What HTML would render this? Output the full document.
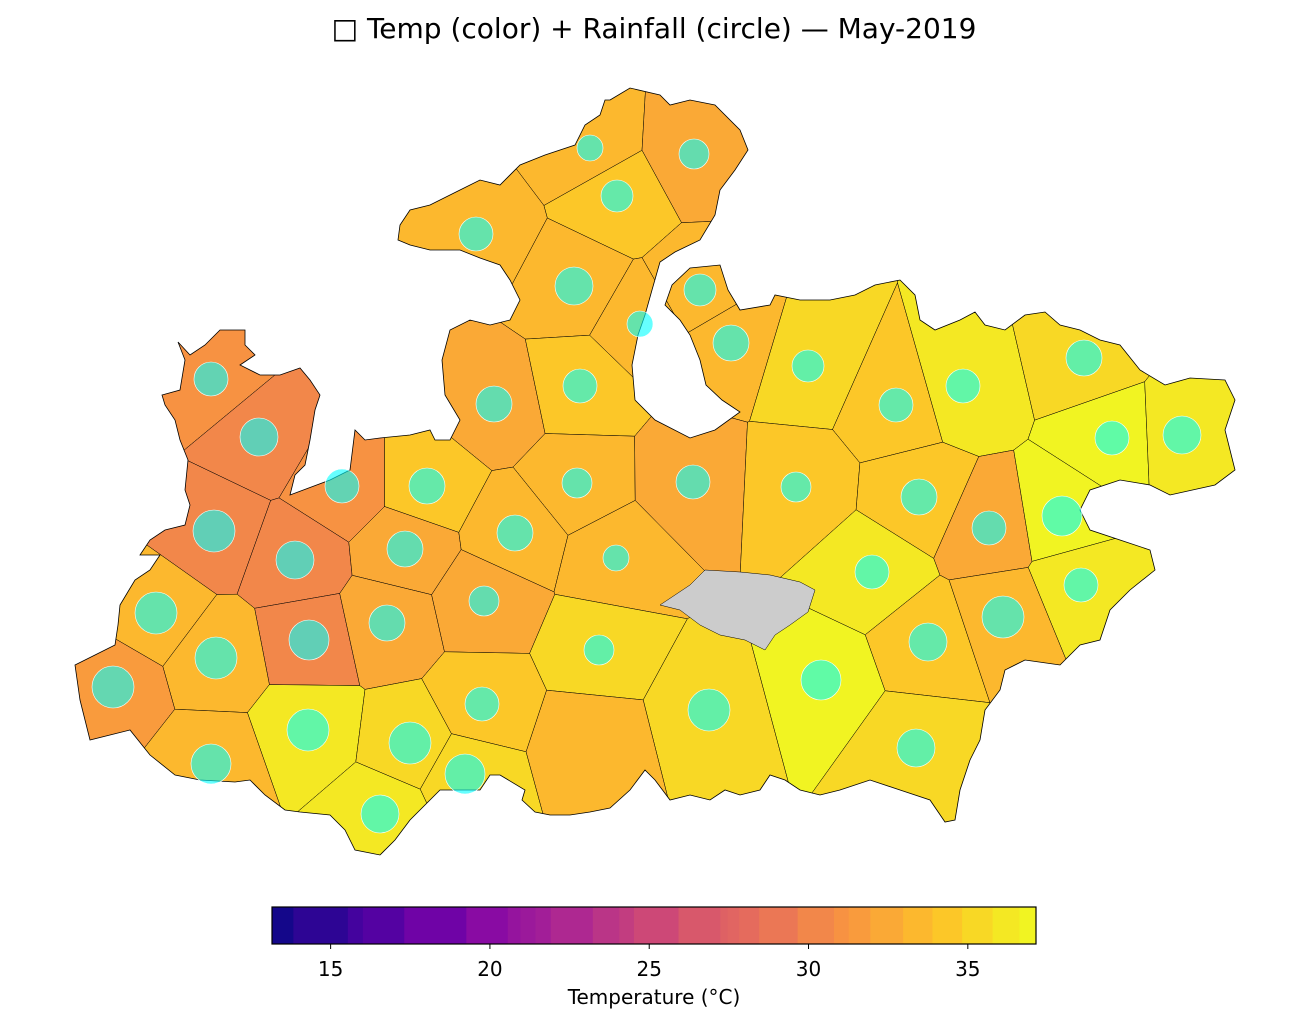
<!DOCTYPE html>
<html><head><meta charset="utf-8"><style>
body{margin:0;background:#fff;}
svg{display:block;font-family:"DejaVu Sans","Liberation Sans",sans-serif;}
</style></head><body>
<svg id="chart" width="1308" height="1023" viewBox="0 0 1308 1023">
<text x="654" y="38" text-anchor="middle" font-size="28" fill="#000">□ Temp (color) + Rainfall (circle) — May-2019</text>
<defs><clipPath id="stateClip"><polygon id="clipPoly"/></clipPath></defs>
<g id="cells" clip-path="url(#stateClip)"></g>
<polygon id="outline" fill="none" stroke="#000" stroke-width="0.8"/>
<polygon id="nodata" fill="#cccccc" stroke="#000" stroke-width="0.5"
 points="660,605 690,585 705,570 740,572 770,575 800,582 815,590 808,612 790,625 775,635 765,650 745,640 720,635 700,625 680,610"/>
<g id="circles"></g>
<g id="cbar"></g>
</svg>
<script>
// district data: circle x, circle y, temperature, rainfall marker radius
const districtTemp = [33,32.5,34.5,33,33.5,33,33,33.5,35,34,36,35.5,37,36,31,30.5,32,34,31,34,33.5,32,34.5,34,30,30.5,32,33.5,33,32.5,37,36.5,36.5,33.5,30.5,32,32.5,35,33.5,34.5,33,31.5,36.5,35,34.5,35,37,33,35,36,35,33];
const districtRain = [13,15,16,17,19,16,13,18,16,17,17,18,17,19,17,19,18,17,17,18,15,17,15,18,21,19,18,18,13,17,20,17,17,21,20,18,15,15,21,19,21,21,21,21,17,21,20,20,20,19,19,0];
const siteX = [590,694,617,476,574,700,640,731,808,896,963,1084,1112,1182,211,259,494,580,342,427,577,693,796,919,214,295,405,515,616,989,1062,872,1081,156,309,387,484,599,1003,928,216,113,308,410,482,709,821,211,465,380,916,590];
const siteY = [148,154,196,234,286,290,324,343,366,405,386,358,438,435,379,437,404,386,486,486,483,482,487,497,531,560,549,533,558,528,516,572,585,613,640,623,601,650,617,642,658,687,730,743,704,710,680,764,774,814,748,740];
// colorbar level boundaries (°C)
const levels = [13.16,13.83,15.54,16.01,17.31,19.26,20.56,20.96,21.43,21.91,23.23,24.06,24.52,25.92,27.23,27.46,27.82,28.45,29.66,30.8,31.26,31.94,32.97,33.89,34.82,35.78,36.62,37.14];
const tickValues = [15,20,25,30,35];

const outlinePts = [[610,100],[630,88],[660,95],[670,105],[690,100],[715,105],[740,130],[748,150],[735,170],[720,190],[715,215],[700,240],[675,252],[660,262],[652,290],[645,315],[638,335],[632,365],[635,400],[655,420],[690,438],[715,430],[740,412],[722,400],[706,385],[700,360],[690,335],[680,320],[665,305],[672,285],[690,268],[720,265],[728,290],[740,310],[770,305],[775,295],[800,300],[830,300],[855,295],[875,285],[900,280],[915,295],[920,320],[935,330],[960,320],[975,312],[985,325],[1005,330],[1025,315],[1045,312],[1060,325],[1080,330],[1100,340],[1120,345],[1140,370],[1165,385],[1190,378],[1225,380],[1235,400],[1225,430],[1235,470],[1215,485],[1170,495],[1150,485],[1120,480],[1090,490],[1080,510],[1090,530],[1120,540],[1150,550],[1155,570],[1130,590],[1110,610],[1100,640],[1080,645],[1060,665],[1025,660],[1005,670],[1000,690],[985,710],[980,740],[970,760],[960,790],[955,820],[945,822],[930,800],[900,790],[870,780],[840,790],[820,795],[800,790],[785,780],[770,775],[760,790],[740,795],[725,790],[710,800],[690,795],[670,800],[655,780],[645,770],[630,790],[610,808],[590,812],[570,815],[550,815],[535,812],[522,800],[525,790],[500,775],[490,775],[480,790],[440,790],[430,800],[410,820],[395,840],[380,855],[355,850],[345,830],[330,815],[300,812],[285,810],[265,795],[250,780],[235,782],[200,780],[175,775],[150,755],[130,730],[110,735],[90,740],[80,700],[75,665],[95,655],[115,645],[118,625],[120,605],[135,580],[150,570],[160,555],[140,555],[150,540],[165,530],[185,525],[190,505],[185,490],[188,460],[180,440],[175,420],[165,405],[162,395],[180,390],[185,360],[178,342],[190,355],[205,345],[220,330],[245,330],[245,345],[255,355],[240,365],[260,375],[280,375],[300,368],[310,380],[320,395],[315,410],[310,440],[305,465],[295,475],[290,495],[330,480],[350,470],[355,430],[365,440],[380,438],[410,435],[430,430],[435,440],[450,440],[460,420],[445,395],[442,360],[450,330],[470,320],[490,325],[510,320],[520,300],[510,280],[500,265],[480,258],[460,250],[430,250],[410,245],[398,240],[400,225],[410,210],[430,205],[460,190],[480,180],[500,185],[520,165],[545,155],[575,145],[585,125],[600,115],[605,100]];

const NS='http://www.w3.org/2000/svg';
const plasma=[[13,8,135],[76,2,161],[126,3,168],[169,35,149],[204,71,120],[229,107,93],[248,148,65],[253,195,40],[240,249,33]];
function plasmaColor(t){t=Math.max(0,Math.min(1,t));const s=t*8,i=Math.min(7,Math.floor(s)),f=s-i;const a=plasma[i],b=plasma[i+1];return 'rgb('+a.map((v,k)=>Math.round(v+(b[k]-v)*f)).join(',')+')';}
const tMin=levels[0],tMax=levels[levels.length-1];
function levelColor(T){let i=0;while(i<levels.length-2&&T>=levels[i+1])i++;const mid=(levels[i]+levels[i+1])/2;return plasmaColor((mid-tMin)/(tMax-tMin));}

const ptsStr=outlinePts.map(p=>p.join(',')).join(' ');
document.getElementById('clipPoly').setAttribute('points',ptsStr);
document.getElementById('outline').setAttribute('points',ptsStr);

function clipHalf(poly,a,b){const mx=(a[0]+b[0])/2,my=(a[1]+b[1])/2,dx=b[0]-a[0],dy=b[1]-a[1];const f=p=>(p[0]-mx)*dx+(p[1]-my)*dy;const out=[];for(let i=0;i<poly.length;i++){const p=poly[i],q=poly[(i+1)%poly.length];const fp=f(p),fq=f(q);if(fp<=0)out.push(p);if((fp<0&&fq>0)||(fp>0&&fq<0)){const t=fp/(fp-fq);out.push([p[0]+(q[0]-p[0])*t,p[1]+(q[1]-p[1])*t]);}}return out;}
const cellsG=document.getElementById('cells');
for(let i=0;i<siteX.length;i++){let poly=[[0,0],[1308,0],[1308,900],[0,900]];const a=[siteX[i],siteY[i]];for(let j=0;j<siteX.length;j++){if(j===i)continue;poly=clipHalf(poly,a,[siteX[j],siteY[j]]);if(!poly.length)break;}
 const el=document.createElementNS(NS,'polygon');el.setAttribute('points',poly.map(p=>p[0].toFixed(1)+','+p[1].toFixed(1)).join(' '));el.setAttribute('fill',levelColor(districtTemp[i]));el.setAttribute('stroke','#000');el.setAttribute('stroke-width','0.5');
 
 
 cellsG.appendChild(el);}
const circG=document.getElementById('circles');
for(let i=0;i<siteX.length;i++){if(!districtRain[i])continue;const c=document.createElementNS(NS,'circle');c.setAttribute('cx',siteX[i]);c.setAttribute('cy',siteY[i]);c.setAttribute('r',districtRain[i]);c.setAttribute('fill','rgba(0,255,255,0.6)');c.setAttribute('stroke','#fff');c.setAttribute('stroke-width','0.6');
 
 
 circG.appendChild(c);}
// colorbar
const cb=document.getElementById('cbar');const x0=272,x1=1036,y0=907,y1=944;
const xs=T=>x0+(T-tMin)/(tMax-tMin)*(x1-x0);
for(let i=0;i<levels.length-1;i++){const r=document.createElementNS(NS,'rect');r.setAttribute('x',xs(levels[i]));r.setAttribute('y',y0);r.setAttribute('width',xs(levels[i+1])-xs(levels[i])+0.5);r.setAttribute('height',y1-y0);r.setAttribute('fill',levelColor((levels[i]+levels[i+1])/2));
 
 
 cb.appendChild(r);}
const fr=document.createElementNS(NS,'rect');fr.setAttribute('x',x0);fr.setAttribute('y',y0);fr.setAttribute('width',x1-x0);fr.setAttribute('height',y1-y0);fr.setAttribute('fill','none');fr.setAttribute('stroke','#000');fr.setAttribute('stroke-width','1.2');


cb.appendChild(fr);
tickValues.forEach(v=>{const x=xs(v);const l=document.createElementNS(NS,'line');l.setAttribute('x1',x);l.setAttribute('x2',x);l.setAttribute('y1',y1);l.setAttribute('y2',y1+5);l.setAttribute('stroke','#000');
 
 
 cb.appendChild(l);
 const t=document.createElementNS(NS,'text');t.setAttribute('x',x);t.setAttribute('y',976);t.setAttribute('text-anchor','middle');t.setAttribute('font-size','20');t.textContent=v;
 
 
 cb.appendChild(t);});
const lab=document.createElementNS(NS,'text');lab.setAttribute('x',654);lab.setAttribute('y',1004);lab.setAttribute('text-anchor','middle');lab.setAttribute('font-size','20');lab.textContent='Temperature (°C)';


cb.appendChild(lab);
</script>
</body></html>
